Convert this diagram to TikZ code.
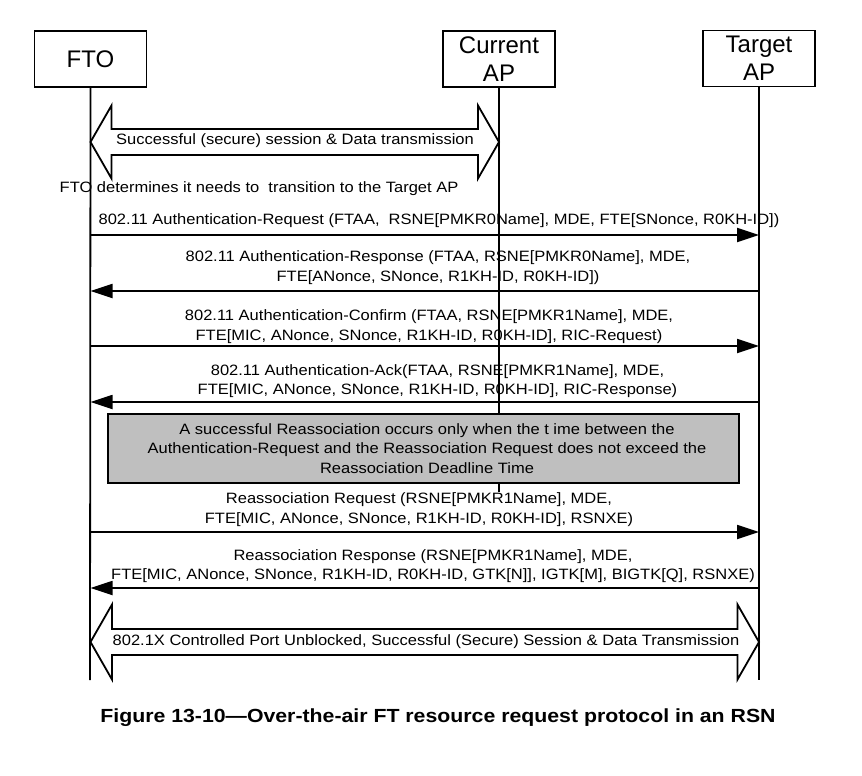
\documentclass[tikz,border=0pt]{standalone}
\usepackage{fontspec}
\setmainfont{Liberation Sans}
\newfontfamily\msgfont[FakeStretch=1.1, Ligatures=TeX]{Liberation Sans}
\newfontfamily\capfont[FakeStretch=1.12, Ligatures=TeX]{Liberation Sans}
\usetikzlibrary{arrows.meta, calc}
\tikzset{
  entity/.style={draw, line width=1.8pt, minimum width=112pt, minimum height=56pt,
    align=center, inner sep=0pt, font=\fontsize{24}{28}\selectfont},
  lifeline/.style={line width=1.8pt},
  msg/.style={line width=1.8pt, -{Triangle[length=22pt, width=14pt]}},
  label/.style={align=center, inner sep=0pt, font=\msgfont\fontsize{15}{19.5}\selectfont},
  blockarrow/.style={draw, fill=white, line width=1.8pt, line join=miter},
  note/.style={draw, line width=1.8pt, fill=black!25, inner sep=0pt},
}
\begin{document}
\begin{tikzpicture}[x=1pt, y=-1pt]
    \useasboundingbox (0,0) rectangle (862,776);

    % participants
    \node[entity] (fto) at (90.5,59) {FTO};
    \node[entity] (cur) at (499,59) {Current\\AP};
    \node[entity] (tgt) at (759,58.5) {Target\\AP};

    % lifelines
    \coordinate (fto-end) at (90,680);
    \coordinate (cur-end) at (499,492);
    \coordinate (tgt-end) at (759,680);
    \draw[lifeline] (fto.south) -- (fto-end);
    \draw[lifeline] (cur.south) -- (cur-end);
    \draw[lifeline] (tgt.south) -- (tgt-end);

    % 1. block arrow at the top (FTO <-> Current AP)
    \coordinate (top-l) at (fto |- 0,142);
    \coordinate (top-r) at (cur |- 0,142);
    \draw[blockarrow] (top-l) -- ++(21,-36.5) -- ++(0,23.5) -- ($(top-r)+(-21,-13)$) -- ++(0,-23.5)
        -- (top-r) -- ++(-21,36.5) -- ++(0,-23.5) -- ($(top-l)+(21,13)$) -- ++(0,23.5) -- cycle;
    \node[label] (session) at (295,141) {Successful (secure) session \& Data transmission};

    \node[label] (decide) at (259,189) {FTO determines it needs to\ \ transition to the Target AP};

    % 2. authentication
    \coordinate (y-req) at (0,235);
    \node[label] (req) at (439,221)
        {802.11 Authentication-Request (FTAA,\ \ RSNE[PMKR0Name], MDE, FTE[SNonce, R0KH-ID])};
    \draw[msg] (fto |- y-req) -- (tgt |- y-req);

    \coordinate (y-resp) at (0,291);
    \node[label] (resp) at (438,267.5)
        {802.11 Authentication-Response (FTAA, RSNE[PMKR0Name], MDE,\\FTE[ANonce, SNonce, R1KH-ID, R0KH-ID])};
    \draw[msg] (tgt |- y-resp) -- (fto |- y-resp);

    \coordinate (y-conf) at (0,346);
    \node[label] (conf) at (429,326.7)
        {802.11 Authentication-Confirm (FTAA, RSNE[PMKR1Name], MDE,\\FTE[MIC, ANonce, SNonce, R1KH-ID, R0KH-ID], RIC-Request)};
    \draw[msg] (fto |- y-conf) -- (tgt |- y-conf);

    \coordinate (y-ack) at (0,402);
    \node[label] (ack) at (437.5,381)
        {802.11 Authentication-Ack(FTAA, RSNE[PMKR1Name], MDE,\\FTE[MIC, ANonce, SNonce, R1KH-ID, R0KH-ID], RIC-Response)};
    \draw[msg] (tgt |- y-ack) -- (fto |- y-ack);

    % 3. grey note
    \node[note, minimum width=631pt, minimum height=69pt] (deadline) at (423.5,448.5) {};
    \node[label, font=\msgfont\fontsize{15}{19.2}\selectfont] (deadline-txt) at (427,448.5)
        {A successful Reassociation occurs only when the t ime between the\\
         Authentication-Request and the Reassociation Request does not exceed the\\
         Reassociation Deadline Time};

    % 4. reassociation
    \coordinate (y-reass) at (0,532);
    \node[label] (reass) at (419,509.7)
        {Reassociation Request (RSNE[PMKR1Name], MDE,\\FTE[MIC, ANonce, SNonce, R1KH-ID, R0KH-ID], RSNXE)};
    \draw[msg] (fto |- y-reass) -- (tgt |- y-reass);

    \coordinate (y-rresp) at (0,588);
    \node[label] (rresp) at (433,566)
        {Reassociation Response (RSNE[PMKR1Name], MDE,\\FTE[MIC, ANonce, SNonce, R1KH-ID, R0KH-ID, GTK[N]], IGTK[M], BIGTK[Q], RSNXE)};
    \draw[msg] (tgt |- y-rresp) -- (fto |- y-rresp);

    % 5. block arrow at the bottom (FTO <-> Target AP)
    \coordinate (bot-l) at (fto |- 0,642);
    \coordinate (bot-r) at (tgt |- 0,642);
    \draw[blockarrow] (bot-l) -- ++(21.5,-37.5) -- ++(0,24.5) -- ($(bot-r)+(-21.5,-13)$) -- ++(0,-24.5)
        -- (bot-r) -- ++(-21.5,37.5) -- ++(0,-24.5) -- ($(bot-l)+(21.5,13)$) -- ++(0,24.5) -- cycle;
    \node[label] (open) at (426,642)
        {802.1X Controlled Port Unblocked, Successful (Secure) Session \& Data Transmission};

    % caption
    \node[label, font=\capfont\bfseries\fontsize{19}{22}\selectfont] (caption) at (438,718)
        {Figure 13-10---Over-the-air FT resource request protocol in an RSN};
\end{tikzpicture}
\end{document}
